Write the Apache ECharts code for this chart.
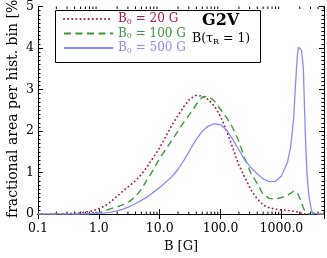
<!DOCTYPE html>
<html><head><meta charset="utf-8">
<script src="https://cdn.jsdelivr.net/npm/echarts@6/dist/echarts.min.js"></script>
<style>html,body{margin:0;padding:0;background:#fff}#c{width:327px;height:258px}</style>
</head><body><div id="c"></div>
<script>
const B = [0.1,0.126,0.158,0.2,0.251,0.316,0.398,0.501,0.631,0.794,
  1,1.26,1.58,2,2.51,3.16,3.98,5.01,6.31,7.94,
  10,12.6,15.8,20,25.1,31.6,39.8,50.1,63.1,79.4,
  100,126,158,200,251,316,398,501,631,794,
  1000,1259,1413,1585,1698,1820,1905,2042,2138,2291,2455,2630,2818,3020,3162,3981,5000];
const b20 = [0,0,0,0.005,0.01,0.015,0.02,0.03,0.05,0.08,
  0.13,0.2,0.3,0.43,0.56,0.68,0.8,0.96,1.15,1.38,
  1.6,1.87,2.14,2.38,2.6,2.78,2.86,2.84,2.76,2.6,
  2.35,2.0,1.6,1.18,0.88,0.58,0.37,0.22,0.15,0.12,
  0.1,0.09,0.08,0.07,0.06,0.05,0.04,0.03,0.02,0.01,0,0,0,0,0,0,0];
const b100 = [0,0,0,0,0,0,0,0,0.005,0.01,
  0.03,0.08,0.13,0.18,0.23,0.3,0.42,0.6,0.85,1.08,
  1.35,1.56,1.78,2.0,2.22,2.42,2.64,2.82,2.84,2.72,
  2.52,2.32,2.08,1.75,1.33,0.98,0.74,0.47,0.38,0.36,
  0.4,0.46,0.5,0.55,0.58,0.52,0.45,0.35,0.27,0.15,0.06,0.01,0,0,0,0,0];
const b500 = [0,0,0,0,0,0,0,0,0.005,0.01,
  0.02,0.03,0.05,0.08,0.12,0.18,0.25,0.33,0.42,0.53,
  0.64,0.77,0.9,1.08,1.3,1.55,1.8,2.0,2.12,2.18,
  2.15,2.02,1.8,1.55,1.3,1.12,0.97,0.85,0.78,0.79,
  0.92,1.25,1.6,2.3,3.1,3.8,4.02,4.02,3.95,3.5,2.0,0.95,0.45,0.2,0.05,0,0];
const seriesNames = ['20 G','100 G','500 G'];
const yTicks = [0,1,2,3,4,5];
const xMinorTicks = [];
[0.1,1,10,100,1000].forEach(d=>{for(let k=2;k<=9;k++){const v=k*d; if(v<=5000) xMinorTicks.push(+v.toPrecision(3));}});

const FONT = 'DejaVu Serif';
const cRed = '#a8184a', cGreen = '#3a9a3a', cBlue = '#8a8aff';
const chart = echarts.init(document.getElementById('c'));
const mk = arr => B.map((b,i)=>[b,arr[i]]);
const xBase = {type:'log', logBase:10, min:0.1, max:5000,
  axisLine:{show:true, lineStyle:{color:'#000', width:1}},
  axisTick:{show:true, inside:true, length:5, lineStyle:{color:'#000'}},
  splitLine:{show:false}, minorTick:{show:false}};
const yBase = {type:'value', min:0, max:5, interval:1,
  axisLine:{show:true, lineStyle:{color:'#000', width:1}},
  axisTick:{show:true, inside:true, length:5, lineStyle:{color:'#000'}},
  minorTick:{show:true, splitNumber:10, length:2.5, lineStyle:{color:'#000'}},
  splitLine:{show:false}, minorSplitLine:{show:false}};
const sub = c => ({s:{color:c, fontFamily:FONT, fontSize:8, padding:[5,0,0,0]}});
chart.setOption({
  animation:false,
  grid:{left:38, right:3, top:3.5, bottom:42.5, containLabel:false},
  xAxis:[
    Object.assign({}, xBase, {position:'bottom',
      axisLabel:{margin:8, color:'#000', fontFamily:FONT, fontSize:12.5,
        formatter:v=>{const l=Math.log10(v); return Math.abs(l-Math.round(l))<1e-6 ? v.toFixed(1) : '';}},
      name:'B [G]', nameLocation:'middle', nameGap:23,
      nameTextStyle:{color:'#000', fontFamily:FONT, fontSize:13}}),
    Object.assign({}, xBase, {position:'top', axisLabel:{show:false}})
  ],
  yAxis:[
    Object.assign({}, yBase, {position:'left',
      axisLabel:{margin:4, color:'#000', fontFamily:FONT, fontSize:12.5,
        formatter:v=> yTicks.indexOf(v)>=0 ? String(v) : ''}}),
    Object.assign({}, yBase, {position:'right', axisLabel:{show:false}})
  ],
  legend:{orient:'vertical', left:63, top:12, padding:0, itemWidth:49, itemHeight:14, itemGap:0.5,
    itemStyle:{opacity:0},
    formatter:n=>'B{s|0} = '+n,
    textStyle:{fontFamily:FONT, fontSize:12, lineHeight:14, rich:sub('#000')},
    data:[
      {name:seriesNames[0], textStyle:{color:cRed, rich:sub(cRed)}},
      {name:seriesNames[1], textStyle:{color:cGreen, rich:sub(cGreen)}},
      {name:seriesNames[2], textStyle:{color:cBlue, rich:sub(cBlue)}}
    ]},
  series:[
    {name:seriesNames[0], type:'line', data:mk(b20), symbol:'none',
      lineStyle:{color:cRed, width:1.8, type:[0.1,4], cap:'round'}, itemStyle:{color:cRed}},
    {name:seriesNames[1], type:'line', data:mk(b100), symbol:'none',
      lineStyle:{color:cGreen, width:1.4, type:[7,4.5]}, itemStyle:{color:cGreen}},
    {name:seriesNames[2], type:'line', data:mk(b500), symbol:'none',
      lineStyle:{color:cBlue, width:1.3}, itemStyle:{color:cBlue}},
    {type:'custom', silent:true, clip:false, data:xMinorTicks.map(v=>[v,0]),
      renderItem:(params, api)=>{
        const cs = params.coordSys;
        const x = api.coord([api.value(0), 1])[0];
        const st = {stroke:'#000', lineWidth:1};
        return {type:'group', children:[
          {type:'line', shape:{x1:x, y1:cs.y+cs.height, x2:x, y2:cs.y+cs.height-2.5}, style:st},
          {type:'line', shape:{x1:x, y1:cs.y, x2:x, y2:cs.y+2.5}, style:st}
        ]};
      }}
  ],
  graphic:[
    {type:'rect', left:53, top:8, shape:{x:0,y:0,width:205,height:52}, style:{fill:'none', stroke:'#000', lineWidth:1}, z:100},
    {type:'text', left:202, top:13, style:{text:'G2V', fontFamily:FONT, fontWeight:'bold', fontSize:16, fill:'#000'}},
    {type:'text', left:192, top:32, style:{text:'B(\u03c4{s|R} = 1)', fontFamily:FONT, fontSize:12.5, fill:'#000',
      rich:{s:{fontSize:8, fontFamily:FONT, padding:[6,0,0,0], fill:'#000'}}}},
    {type:'text', x:13, y:218, rotation:Math.PI/2, style:{text:'fractional area per hist. bin [%]', fontFamily:FONT, fontSize:14, fill:'#000', align:'left', verticalAlign:'middle'}}
  ]
});
</script></body></html>
